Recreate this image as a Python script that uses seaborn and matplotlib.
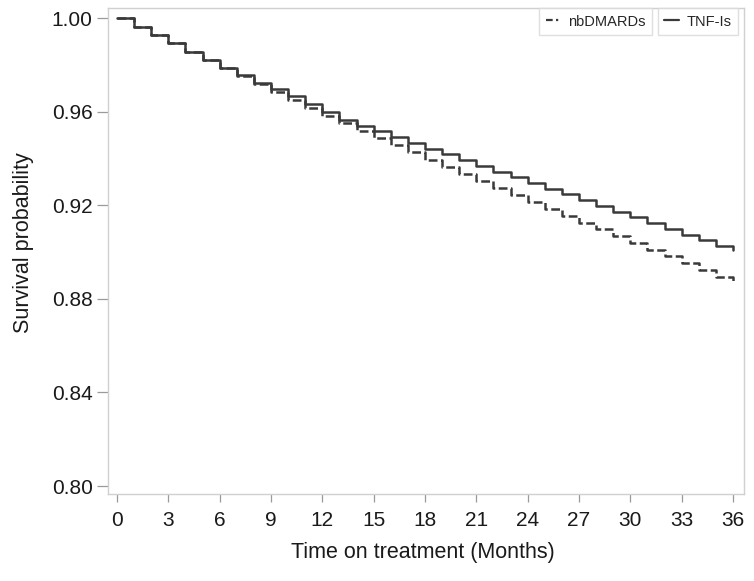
import pandas as pd
import matplotlib
matplotlib.use('Agg')
import matplotlib.pyplot as plt
from matplotlib.lines import Line2D
import seaborn as sns

# Kaplan-Meier style survival estimates, one value per month (0..36)
months = list(range(0, 37))

tnf_is = [1.0000, 0.9964, 0.9928, 0.9892, 0.9857, 0.9822, 0.9788, 0.9755, 0.9723,
          0.9695, 0.9667, 0.9632, 0.9598, 0.9565, 0.9540, 0.9516, 0.9491, 0.9467,
          0.9442, 0.9418, 0.9393, 0.9369, 0.9344, 0.9320, 0.9296, 0.9271, 0.9247,
          0.9222, 0.9198, 0.9173, 0.9149, 0.9124, 0.9100, 0.9075, 0.9051, 0.9026,
          0.9009]

nbdmards = [1.0000, 0.9964, 0.9928, 0.9892, 0.9856, 0.9821, 0.9786, 0.9752, 0.9718,
            0.9686, 0.9652, 0.9614, 0.9580, 0.9550, 0.9519, 0.9488, 0.9457, 0.9426,
            0.9395, 0.9364, 0.9333, 0.9302, 0.9272, 0.9242, 0.9213, 0.9184, 0.9155,
            0.9126, 0.9097, 0.9068, 0.9039, 0.9010, 0.8982, 0.8953, 0.8924, 0.8895,
            0.8862]

x_ticks = list(range(0, 37, 3))
y_ticks = [0.80, 0.84, 0.88, 0.92, 0.96, 1.00]

df_tnf = pd.DataFrame({'month': months, 'surv': tnf_is})
df_nb = pd.DataFrame({'month': months, 'surv': nbdmards})

sns.set_style('white')
plt.rcParams['font.family'] = ['Liberation Sans', 'DejaVu Sans']

fig = plt.figure(figsize=(7.54, 5.81), dpi=100)
ax = fig.add_axes([0.1432, 0.1497, 0.9867 - 0.1432, 0.9862 - 0.1497])

line_col = '#3a3a3a'
sns.lineplot(data=df_nb, x='month', y='surv', ax=ax, color=line_col, linewidth=1.8,
             drawstyle='steps-post', legend=False, linestyle=(0, (3.5, 1.4)))
sns.lineplot(data=df_tnf, x='month', y='surv', ax=ax, color=line_col, linewidth=1.8,
             drawstyle='steps-post', legend=False)

ax.set_xlim(-0.53, 36.64)
ax.set_ylim(0.7966, 1.0043)
ax.set_xticks(x_ticks)
ax.set_yticks(y_ticks)
ax.set_yticklabels([f'{v:.2f}' for v in y_ticks])

for sp in ax.spines.values():
    sp.set_color('#d0d0d0')
    sp.set_linewidth(1.0)

ax.tick_params(axis='both', which='major', direction='out', width=0.9,
               color='#9a9a9a', labelsize=15, labelcolor='#1a1a1a',
               bottom=True, left=True)
ax.tick_params(axis='y', length=8, pad=3)
ax.tick_params(axis='x', length=6, pad=6)

ax.set_xlabel('Time on treatment (Months)', fontsize=15.5, color='#1a1a1a')
ax.set_ylabel('Survival probability', fontsize=15.5, color='#1a1a1a')
ax.xaxis.set_label_coords((423 - 108) / 636, -(542 - 494) / 486)
ax.yaxis.set_label_coords(-(108 - 34) / 636, (494 - 243) / 486)

# two separate legend boxes at top right
h_nb = Line2D([], [], color=line_col, linewidth=1.6, linestyle=(0, (3, 1.5, 1, 1.5)))
h_tnf = Line2D([], [], color=line_col, linewidth=1.6)
leg_kw = dict(fontsize=10.5, frameon=True, fancybox=False, handlelength=1.0,
              handletextpad=0.5, borderpad=0.45, borderaxespad=0)
leg1 = ax.legend([h_nb], ['nbDMARDs'], loc='upper right',
                 bbox_to_anchor=(0.855, 1.0), **leg_kw)
leg1.get_frame().set_edgecolor('#d8d8d8')
leg1.get_frame().set_linewidth(1.0)
ax.add_artist(leg1)
leg2 = ax.legend([h_tnf], ['TNF-Is'], loc='upper right',
                 bbox_to_anchor=(0.9905, 1.0), **leg_kw)
leg2.get_frame().set_edgecolor('#d8d8d8')
leg2.get_frame().set_linewidth(1.0)

fig.savefig('out.png', dpi=100)
